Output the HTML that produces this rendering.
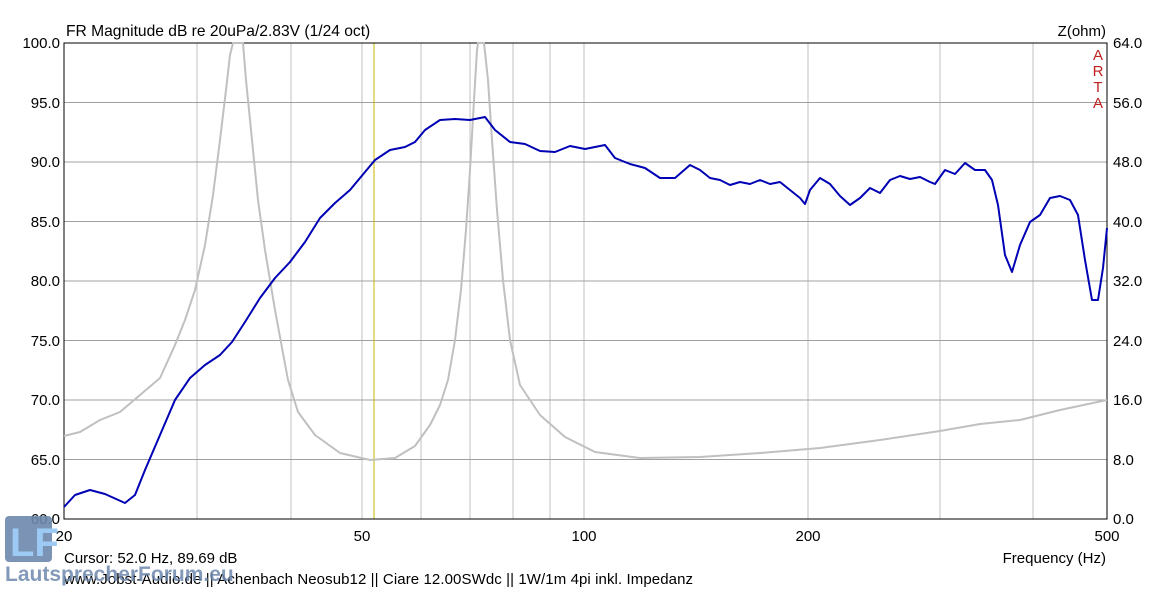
<!DOCTYPE html>
<html><head><meta charset="utf-8"><style>
body{margin:0;background:#fff;width:1172px;height:591px;overflow:hidden}
svg text{font-family:"Liberation Sans",Arial,sans-serif;font-size:15px;fill:#000}
</style></head><body>
<svg width="1172" height="591" xmlns="http://www.w3.org/2000/svg">
<rect width="1172" height="591" fill="#fff"/>
<g stroke="#c0c0c0" stroke-width="1">
<line x1="197" y1="43" x2="197" y2="519"/><line x1="291" y1="43" x2="291" y2="519"/>
<line x1="362" y1="43" x2="362" y2="519"/><line x1="421" y1="43" x2="421" y2="519"/>
<line x1="470" y1="43" x2="470" y2="519"/><line x1="513" y1="43" x2="513" y2="519"/>
<line x1="550" y1="43" x2="550" y2="519"/><line x1="584" y1="43" x2="584" y2="519"/>
<line x1="808" y1="43" x2="808" y2="519"/><line x1="940" y1="43" x2="940" y2="519"/>
<line x1="1033" y1="43" x2="1033" y2="519"/>
</g>
<g stroke="#a0a0a0" stroke-width="1">
<line x1="64" y1="102.5" x2="1107" y2="102.5"/><line x1="64" y1="162" x2="1107" y2="162"/>
<line x1="64" y1="221.5" x2="1107" y2="221.5"/><line x1="64" y1="281" x2="1107" y2="281"/>
<line x1="64" y1="340.5" x2="1107" y2="340.5"/><line x1="64" y1="400" x2="1107" y2="400"/>
<line x1="64" y1="459.5" x2="1107" y2="459.5"/>
</g>
<line x1="374" y1="43" x2="374" y2="519" stroke="#c8b400" stroke-width="1"/>
<rect x="64" y="43" width="1043" height="476" fill="none" stroke="#000" stroke-width="1"/>
<polyline fill="none" stroke="#c0c0c0" stroke-width="2" stroke-linejoin="round" points="64,436 80,432 100,420 120,412 140,395 160,378 175,345 185,320 195,290 205,245 213,195 220,140 226,90 230,55 233,43 243,43 246,80 251,130 258,200 265,250 275,310 288,380 298,412 315,435 340,453 370,460 395,458 415,446 430,425 440,405 448,380 455,340 461,290 466,230 470,170 474,100 477,50 478,43 484,43 488,80 492,140 497,210 503,280 510,340 520,385 540,415 565,437 595,452 640,458 700,457 760,453 820,448 880,440 940,431 980,424 1020,420 1060,410 1107,400"/>
<polyline fill="none" stroke="#0000b4" stroke-width="2" stroke-linejoin="round" points="64,507 75,495 90,490 105,494 125,503 135,495 145,470 160,435 175,400 190,378 205,365 220,355 232,342 245,322 260,298 275,278 290,262 305,242 320,218 335,203 350,190 365,172 375,160 390,150 405,147 415,142 425,130 440,120 455,119 470,120 485,117 495,130 510,142 525,144 540,151 555,152 570,146 585,149 595,147 605,145 615,158 630,164 645,168 660,178 675,178 690,165 700,170 710,178 720,180 730,185 740,182 750,184 760,180 770,184 780,182 790,190 800,198 805,204 810,190 820,178 830,184 840,196 850,205 860,198 870,188 880,193 890,180 900,176 910,179 920,177 930,182 935,184 945,170 955,174 965,163 975,170 985,170 992,180 998,205 1005,255 1012,272 1020,245 1030,222 1040,215 1050,198 1060,196 1070,200 1078,215 1085,260 1092,300 1098,300 1103,268 1107,228"/>
<text x="66" y="36" style="font-size:15.6px">FR Magnitude dB re 20uPa/2.83V (1/24 oct)</text>
<g text-anchor="end">
<text x="60" y="48">100.0</text><text x="60" y="108">95.0</text><text x="60" y="167">90.0</text>
<text x="60" y="227">85.0</text><text x="60" y="286">80.0</text><text x="60" y="346">75.0</text>
<text x="60" y="405">70.0</text><text x="60" y="465">65.0</text><text x="60" y="524">60.0</text>
<text x="1106" y="36">Z(ohm)</text>
<text x="1106" y="563">Frequency (Hz)</text>
</g>
<g text-anchor="start">
<text x="1113" y="48">64.0</text><text x="1113" y="108">56.0</text><text x="1113" y="167">48.0</text>
<text x="1113" y="227">40.0</text><text x="1113" y="286">32.0</text><text x="1113" y="346">24.0</text>
<text x="1113" y="405">16.0</text><text x="1113" y="465">8.0</text><text x="1113" y="524">0.0</text>
</g>
<g text-anchor="middle">
<text x="64" y="541">20</text><text x="362" y="541">50</text><text x="584" y="541">100</text>
<text x="808" y="541">200</text><text x="1107" y="541">500</text>
</g>
<g text-anchor="middle">
<text x="1098" y="60" style="fill:#c02020">A</text><text x="1098" y="76" style="fill:#c02020">R</text>
<text x="1098" y="92" style="fill:#c02020">T</text><text x="1098" y="108" style="fill:#c02020">A</text>
</g>
<rect x="5" y="516" width="47" height="46" rx="4" fill="#6d88ad" opacity="0.9"/>
<text x="10" y="556" style="font-size:40px;font-weight:bold;fill:#9ccaf4">LF</text>
<text x="64" y="563">Cursor: 52.0 Hz, 89.69 dB</text>
<text x="64" y="584" textLength="629">www.Jobst-Audio.de || Achenbach Neosub12 || Ciare 12.00SWdc || 1W/1m 4pi inkl. Impedanz</text>
<text x="5" y="581" style="font-size:21px;font-weight:bold;fill:#6d88ad;opacity:0.85">LautsprecherForum.eu</text>
</svg>
</body></html>
